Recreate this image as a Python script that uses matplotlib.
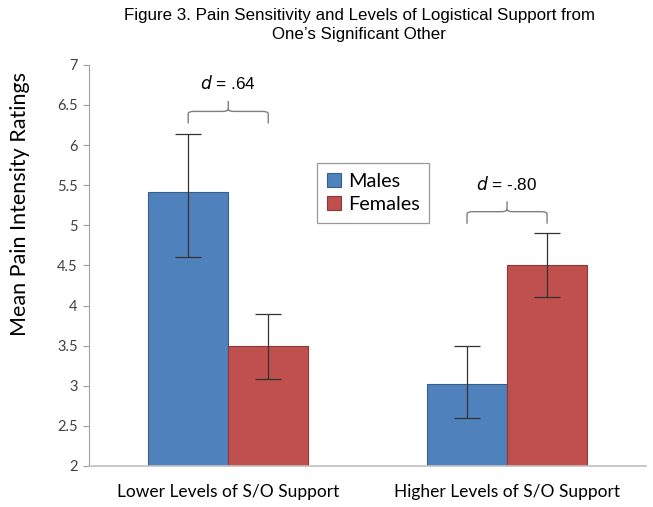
import numpy as np
import matplotlib
matplotlib.use("Agg")
import matplotlib.pyplot as plt
from matplotlib.path import Path
from matplotlib.patches import PathPatch

# Data
groups = ["Lower Levels of S/O Support", "Higher Levels of S/O Support"]
series = ["Males", "Females"]
males = [5.42, 3.02]
females = [3.50, 4.50]
males_err_lo = [0.81, 0.42]
males_err_hi = [0.72, 0.48]
females_err_lo = [0.42, 0.39]
females_err_hi = [0.39, 0.41]
effect_labels = [".64", "-.80"]
brace_heights = [6.42, 5.17]

colors = ["#4F81BD", "#C0504D"]
edges = ["#385D8A", "#8C3836"]

fig = plt.figure(figsize=(6.53, 5.07), dpi=100)
ax = fig.add_axes([0.136, 0.081, 0.854, 0.791])

x = np.arange(len(groups))
w = 0.287

ax.bar(x - w / 2, males, w, color=colors[0], edgecolor=edges[0],
       linewidth=0.8, label=series[0], zorder=2)
ax.bar(x + w / 2, females, w, color=colors[1], edgecolor=edges[1],
       linewidth=0.8, label=series[1], zorder=2)
ax.errorbar(x - w / 2, males, yerr=[males_err_lo, males_err_hi], fmt="none",
            ecolor="#333333", elinewidth=0.9, capsize=9.5, capthick=0.9, zorder=3)
ax.errorbar(x + w / 2, females, yerr=[females_err_lo, females_err_hi], fmt="none",
            ecolor="#333333", elinewidth=0.9, capsize=9.5, capthick=0.9, zorder=3)


def brace(ax, x0, x1, y, drop=0.15, tip=0.13, r=0.02):
    xm = (x0 + x1) / 2
    dy = 0.03
    verts = [
        (x0, y - drop), (x0, y - dy), (x0, y), (x0 + r, y),
        (xm - r, y), (xm, y), (xm, y + dy),
        (xm, y + tip),
        (xm, y + dy), (xm, y), (xm + r, y),
        (x1 - r, y), (x1, y), (x1, y - dy),
        (x1, y - drop),
    ]
    codes = [Path.MOVETO, Path.LINETO, Path.CURVE3, Path.CURVE3,
             Path.LINETO, Path.CURVE3, Path.CURVE3,
             Path.LINETO,
             Path.MOVETO, Path.CURVE3, Path.CURVE3,
             Path.LINETO, Path.CURVE3, Path.CURVE3,
             Path.LINETO]
    ax.add_patch(PathPatch(Path(verts, codes), fill=False, edgecolor="#7F7F7F",
                           linewidth=1.0, zorder=3))


for i, (lab, yb) in enumerate(zip(effect_labels, brace_heights)):
    brace(ax, x[i] - w / 2, x[i] + w / 2, yb)
    ax.text(x[i], yb + 0.35, r"$\it{d}$ = " + lab, ha="center", va="center",
            fontsize=12.3, family="Liberation Sans")

ax.set_xlim(-0.5, 1.5)
ax.set_ylim(2, 7)
ax.set_yticks(np.arange(2, 7.01, 0.5))
ax.set_yticklabels(["2", "2.5", "3", "3.5", "4", "4.5", "5", "5.5", "6", "6.5", "7"],
                   family="Lato", fontsize=10.5, color="#404040")
ax.set_xticks(x)
ax.set_xticklabels(groups, family="Lato", fontsize=12.5)
ax.tick_params(axis="x", length=0, pad=13)
ax.tick_params(axis="y", length=4, color="#A0A0A0", pad=4)
for s in ["top", "right"]:
    ax.spines[s].set_visible(False)
ax.spines["left"].set_color("#A0A0A0")
ax.spines["bottom"].set_color("#C0C0C0")
ax.spines["bottom"].set_linewidth(1.2)

ax.set_ylabel("Mean Pain Intensity Ratings", family="Lato", fontsize=15.5,
              va="center")
ax.yaxis.set_label_coords(-0.124, 0.653)

leg = ax.legend(loc="upper left", bbox_to_anchor=(0.409, 0.756), fancybox=False,
                edgecolor="#808080", prop={"family": "Lato", "size": 14.3},
                handlelength=0.7, handleheight=0.7, handletextpad=0.35,
                borderpad=0.5, labelspacing=0.3, borderaxespad=0)
leg.get_frame().set_linewidth(0.9)

fig.text(0.55, 0.985, "Figure 3. Pain Sensitivity and Levels of Logistical Support from\nOne\u2019s Significant Other",
         ha="center", va="top", fontsize=12.2, family="Liberation Sans", linespacing=1.4)

fig.savefig("out.png", dpi=100)
